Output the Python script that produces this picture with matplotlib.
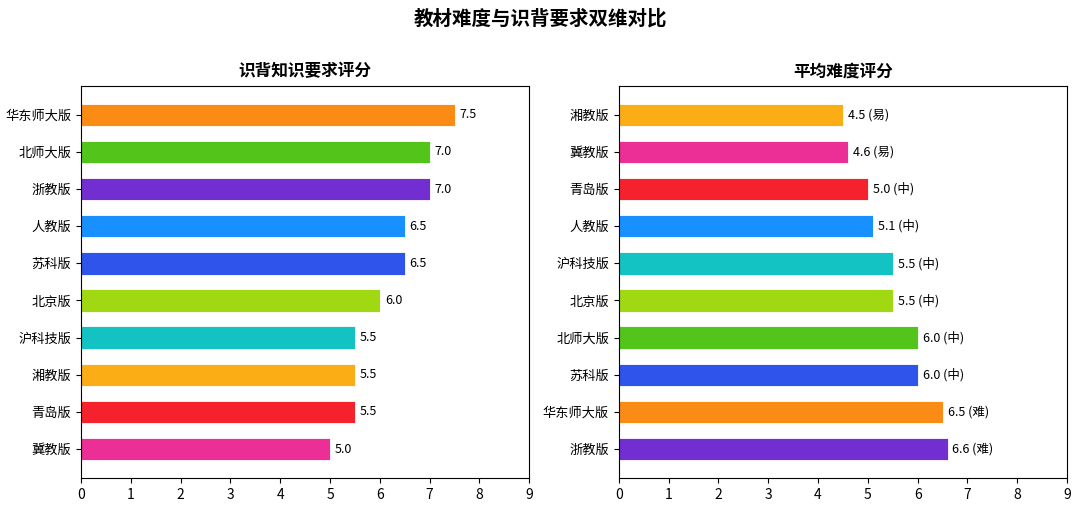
import matplotlib
matplotlib.use("Agg")
import matplotlib.pyplot as plt

plt.rcParams['font.family'] = ['Noto Sans CJK SC', 'DejaVu Sans']

# 识背知识要求评分 (top to bottom)
memo_names = ['华东师大版', '北师大版', '浙教版', '人教版', '苏科版',
              '北京版', '沪科技版', '湘教版', '青岛版', '冀教版']
memo_scores = [7.5, 7.0, 7.0, 6.5, 6.5, 6.0, 5.5, 5.5, 5.5, 5.0]

# 平均难度评分 (top to bottom)
diff_names = ['湘教版', '冀教版', '青岛版', '人教版', '沪科技版',
              '北京版', '北师大版', '苏科版', '华东师大版', '浙教版']
diff_scores = [4.5, 4.6, 5.0, 5.1, 5.5, 5.5, 6.0, 6.0, 6.5, 6.6]
diff_levels = ['易', '易', '中', '中', '中', '中', '中', '中', '难', '难']

colors = {
    '华东师大版': '#FA8C16', '北师大版': '#52C41A', '浙教版': '#722ED1',
    '人教版': '#1890FF', '苏科版': '#2F54EB', '北京版': '#A0D911',
    '沪科技版': '#13C2C2', '湘教版': '#FAAD14', '青岛版': '#F5222D',
    '冀教版': '#EB2F96',
}

fig, (ax1, ax2) = plt.subplots(1, 2, figsize=(10.8, 5.14), dpi=100)
fig.subplots_adjust(left=0.075, right=0.988, top=0.833, bottom=0.07, wspace=0.2)

def draw(ax, names, values, labels, title):
    pos = list(range(len(names)))[::-1]
    ax.barh(pos, values, height=0.6, color=[colors[n] for n in names],
            edgecolor='white', linewidth=0.6)
    ax.set_yticks(pos)
    ax.set_yticklabels(names, fontsize=9.5)
    ax.set_xlim(0, 9)
    ax.set_xticks(range(10))
    ax.tick_params(axis='x', labelsize=10)
    ax.set_title(title, fontsize=12, fontweight='bold', pad=7)
    for p, v, lab in zip(pos, values, labels):
        ax.text(v + 0.1, p, lab, va='center', ha='left', fontsize=9)

draw(ax1, memo_names, memo_scores, [f'{v:.1f}' for v in memo_scores], '识背知识要求评分')
draw(ax2, diff_names, diff_scores,
     [f'{v:.1f} ({l})' for v, l in zip(diff_scores, diff_levels)], '平均难度评分')

fig.suptitle('教材难度与识背要求双维对比', fontsize=14, fontweight='bold', y=0.982)

fig.savefig('out.png', dpi=100)
